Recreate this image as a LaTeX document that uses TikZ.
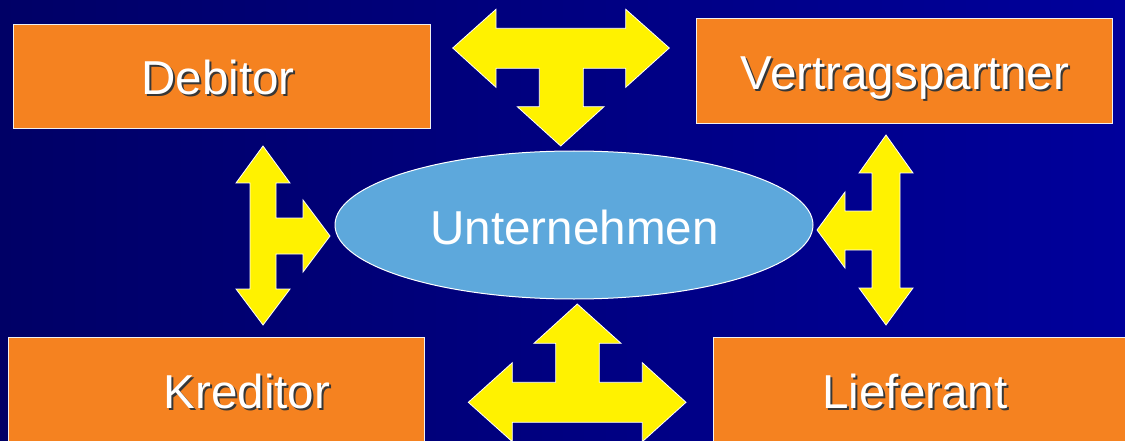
\documentclass[tikz,border=0pt]{standalone}
\usepackage{fontspec}
\setmainfont{Liberation Sans}
\usetikzlibrary{shapes.geometric}
\definecolor{bgl}{RGB}{0,0,102}
\definecolor{bgr}{RGB}{0,0,155}
\definecolor{orangebox}{RGB}{245,130,32}
\definecolor{ellfill}{RGB}{93,168,220}
\definecolor{arrowyellow}{RGB}{255,242,0}
\definecolor{shadowc}{RGB}{55,55,55}
\newcommand{\shtext}[1]{\rlap{\kern2pt\raisebox{-2pt}{\textcolor{shadowc}{#1}}}#1}
\tikzset{
  obox/.style={rectangle, fill=orangebox, draw=white!88!gray, line width=1pt, inner sep=0pt},
  lbl/.style={anchor=base, text=white, inner sep=0pt, font=\fontsize{47.6}{56}\selectfont},
  yarrow/.style={fill=arrowyellow, draw=white, line width=0.8pt, line join=miter},
  ell/.style={ellipse, fill=ellfill, draw=white, line width=1pt, inner sep=0pt}
}
\begin{document}
\begin{tikzpicture}[x=1pt,y=-1pt]
\useasboundingbox (0,0) rectangle (1125,441);
\clip (0,0) rectangle (1125,441);
\shade[left color=bgl, right color=bgr] (0,0) rectangle (1125,441);

% boxes
\node[obox, minimum width=417pt, minimum height=104pt] (deb) at (221.5,77) {};
\node[obox, minimum width=416pt, minimum height=105pt] (vert) at (904,71.5) {};
\node[obox, minimum width=416pt, minimum height=108pt] (kred) at (216,391) {};
\node[obox, minimum width=416pt, minimum height=108pt] (lief) at (921,391) {};

% ellipse
\node[ell, minimum width=478pt, minimum height=148pt] (unt) at (574,225) {};

% labels
\node[lbl] (debt) at (218,95) {\shtext{Debitor}};
\node[lbl] (vertt) at (905,90) {\shtext{Vertragspartner}};
\node[lbl] (kredt) at (247,408) {\shtext{Kreditor}};
\node[lbl] (lieft) at (915,408) {\shtext{Lieferant}};
\node[lbl] (untt) at (574.5,244) {Unternehmen};

% top T-arrow
\draw[yarrow] (452.7,48) -- (496,9.3) -- (496,28.3) -- (625.7,28.3) -- (625.7,9.3)
  -- (669.3,48) -- (625.7,87.3) -- (625.7,68.3) -- (583.3,68.3) -- (583.3,106.7)
  -- (604,106.7) -- (560.7,146) -- (517.3,106.7) -- (539.3,106.7) -- (539.3,68.3)
  -- (496,68.3) -- (496,87.3) -- cycle;

% bottom T-arrow
\draw[yarrow] (577.3,304) -- (621,343.3) -- (599.3,343.3) -- (599.3,382.3)
  -- (642.3,382.3) -- (642.3,362.7) -- (686,402.3) -- (642.3,441.7) -- (642.3,422.3)
  -- (512.3,422.3) -- (512.3,441.7) -- (468.3,402.3) -- (512.3,362.7) -- (512.3,382.3)
  -- (555.7,382.3) -- (555.7,343.3) -- (534,343.3) -- cycle;

% left T-arrow
\draw[yarrow] (263,146) -- (290,183) -- (276,183) -- (276,218) -- (303,218) -- (303,200)
  -- (330,236) -- (303,272) -- (303,254) -- (276,254) -- (276,289) -- (290,289)
  -- (263,325) -- (236,289) -- (250,289) -- (250,183) -- (236,183) -- cycle;

% right T-arrow
\draw[yarrow] (886,135) -- (913,173) -- (900,173) -- (900,288) -- (913,288) -- (886,325)
  -- (859,288) -- (872,288) -- (872,250) -- (845,250) -- (845,268) -- (817,230)
  -- (845,192) -- (845,211) -- (872,211) -- (872,173) -- (859,173) -- cycle;
\end{tikzpicture}
\end{document}
